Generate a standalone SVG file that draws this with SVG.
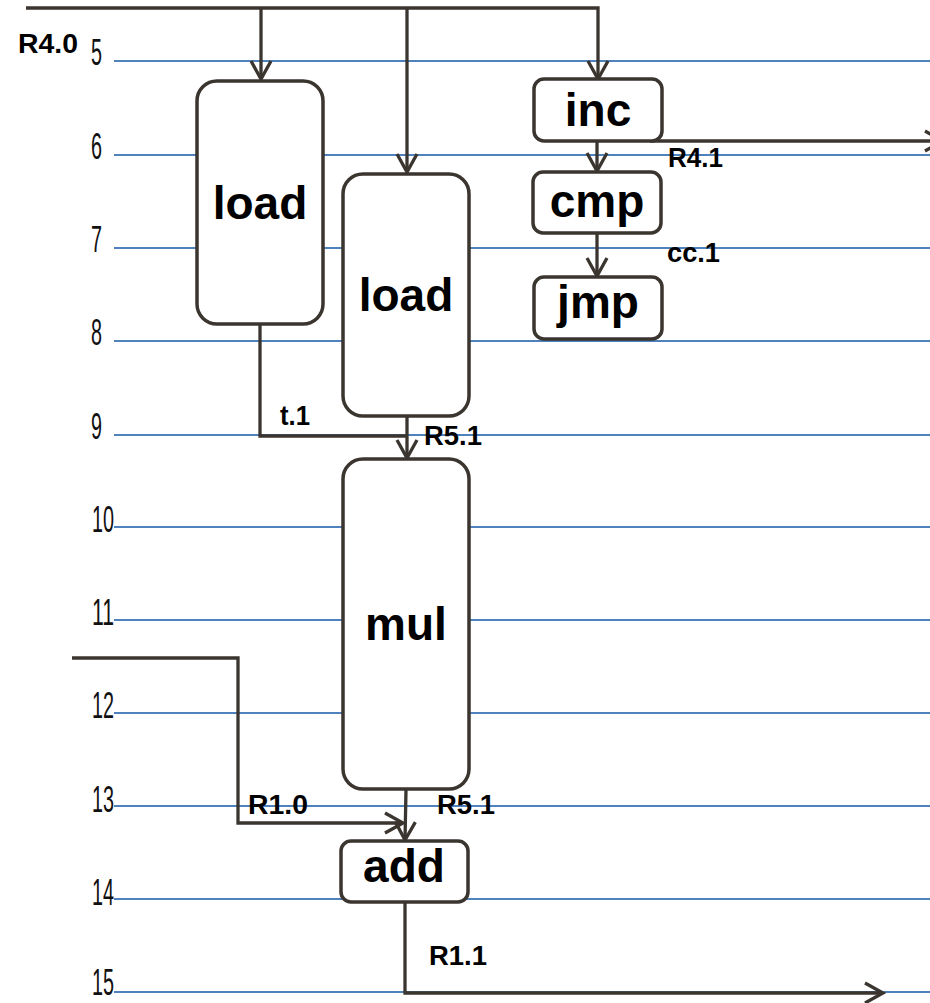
<svg xmlns="http://www.w3.org/2000/svg" width="930" height="1003" viewBox="0 0 930 1003">
  <style>
    .grid line { stroke: #4f81bd; stroke-width: 2; }
    .num { font-family: "Liberation Sans", Arial, sans-serif; font-size: 36px; fill: #111; }
    .wire { fill: none; stroke: #3b3530; stroke-width: 3.3; stroke-linejoin: miter; }
    .box { fill: #fff; stroke: #3b3530; stroke-width: 3.5; }
    .op { font-family: "Liberation Sans", Arial, sans-serif; font-weight: bold; font-size: 46px; fill: #000; text-anchor: middle; }
    .lbl { font-family: "Liberation Sans", Arial, sans-serif; font-weight: bold; font-size: 27px; fill: #000; }
  </style>
  <defs>
    <marker id="arr" viewBox="-22 -13 26 26" refX="0" refY="0" markerWidth="26" markerHeight="26" markerUnits="userSpaceOnUse" orient="auto" overflow="visible">
      <path d="M-18,-10 L0,0 L-18,10" fill="none" stroke="#3b3530" stroke-width="3.3"/>
    </marker>
  </defs>
  <rect width="930" height="1003" fill="#fff"/>

  <!-- cycle rows -->
  <g id="cycles" class="grid">
    <line x1="114" y1="61" x2="930" y2="61"/>
    <line x1="114" y1="155" x2="930" y2="155"/>
    <line x1="114" y1="248" x2="930" y2="248"/>
    <line x1="114" y1="341" x2="930" y2="341"/>
    <line x1="114" y1="435" x2="930" y2="435"/>
    <line x1="114" y1="527" x2="930" y2="527"/>
    <line x1="114" y1="620" x2="930" y2="620"/>
    <line x1="114" y1="713" x2="930" y2="713"/>
    <line x1="114" y1="806" x2="930" y2="806"/>
    <line x1="114" y1="899" x2="930" y2="899"/>
    <line x1="114" y1="992" x2="930" y2="992"/>
  </g>
  <g id="cycle-numbers">
    <text class="num" x="91" y="65" textLength="11" lengthAdjust="spacingAndGlyphs">5</text>
    <text class="num" x="91" y="159" textLength="11" lengthAdjust="spacingAndGlyphs">6</text>
    <text class="num" x="91" y="252" textLength="11" lengthAdjust="spacingAndGlyphs">7</text>
    <text class="num" x="91" y="345" textLength="11" lengthAdjust="spacingAndGlyphs">8</text>
    <text class="num" x="91" y="439" textLength="11" lengthAdjust="spacingAndGlyphs">9</text>
    <text class="num" x="92" y="532" textLength="22" lengthAdjust="spacingAndGlyphs">10</text>
    <text class="num" x="92" y="625" textLength="22" lengthAdjust="spacingAndGlyphs">11</text>
    <text class="num" x="92" y="718" textLength="22" lengthAdjust="spacingAndGlyphs">12</text>
    <text class="num" x="92" y="812" textLength="22" lengthAdjust="spacingAndGlyphs">13</text>
    <text class="num" x="92" y="905" textLength="22" lengthAdjust="spacingAndGlyphs">14</text>
    <text class="num" x="92" y="995" font-size="34" textLength="22" lengthAdjust="spacingAndGlyphs">15</text>
  </g>

  <!-- dataflow wires -->
  <g id="connectors">
    <polyline class="wire" points="26,8 598,8 598,79" marker-end="url(#arr)"/>
    <polyline class="wire" points="261,8 261,79" marker-end="url(#arr)"/>
    <polyline class="wire" points="407,8 407,172" marker-end="url(#arr)"/>
    <polyline class="wire" points="597,141 597,171" marker-end="url(#arr)"/>
    <polyline class="wire" points="597,233 597,276" marker-end="url(#arr)"/>
    <polyline class="wire" points="650,141 943,141" marker-end="url(#arr)"/>
    <polyline class="wire" points="260,324 260,436 407,436"/>
    <polyline class="wire" points="407,416 407,458" marker-end="url(#arr)"/>
    <polyline class="wire" points="72,658 238,658 238,823 403,823" marker-end="url(#arr)"/>
    <polyline class="wire" points="406,790 405,840" marker-end="url(#arr)"/>
    <polyline class="wire" points="405,903 405,993 883,993" marker-end="url(#arr)"/>
    <text class="lbl" x="18" y="53" font-size="28" textLength="60" lengthAdjust="spacingAndGlyphs">R4.0</text>
    <text class="lbl" x="668" y="167" textLength="55" lengthAdjust="spacingAndGlyphs">R4.1</text>
    <text class="lbl" x="667" y="262" textLength="53" lengthAdjust="spacingAndGlyphs">cc.1</text>
    <text class="lbl" x="280" y="425" textLength="30" lengthAdjust="spacingAndGlyphs">t.1</text>
    <text class="lbl" x="424" y="445" textLength="58" lengthAdjust="spacingAndGlyphs">R5.1</text>
    <text class="lbl" x="248" y="814" textLength="60" lengthAdjust="spacingAndGlyphs">R1.0</text>
    <text class="lbl" x="437" y="814" textLength="58" lengthAdjust="spacingAndGlyphs">R5.1</text>
    <text class="lbl" x="429" y="965" textLength="58" lengthAdjust="spacingAndGlyphs">R1.1</text>
  </g>

  <!-- operations -->
  <g id="load-a">
    <rect class="box" x="197" y="81" width="126" height="243" rx="20"/>
    <text class="op" x="260" y="219">load</text>
  </g>
  <g id="load-b">
    <rect class="box" x="343" y="174" width="126" height="242" rx="20"/>
    <text class="op" x="406" y="311">load</text>
  </g>
  <g id="inc">
    <rect class="box" x="534" y="79" width="128" height="62" rx="10"/>
    <text class="op" x="598" y="126">inc</text>
  </g>
  <g id="cmp">
    <rect class="box" x="533" y="172" width="128" height="61" rx="10"/>
    <text class="op" x="597" y="217">cmp</text>
  </g>
  <g id="jmp">
    <rect class="box" x="534" y="277" width="128" height="62" rx="10"/>
    <text class="op" x="598" y="318">jmp</text>
  </g>
  <g id="mul">
    <rect class="box" x="343" y="459" width="126" height="330" rx="20"/>
    <text class="op" x="406" y="640">mul</text>
  </g>
  <g id="add">
    <rect class="box" x="341" y="841" width="127" height="61" rx="10"/>
    <text class="op" x="404" y="882">add</text>
  </g>
</svg>
